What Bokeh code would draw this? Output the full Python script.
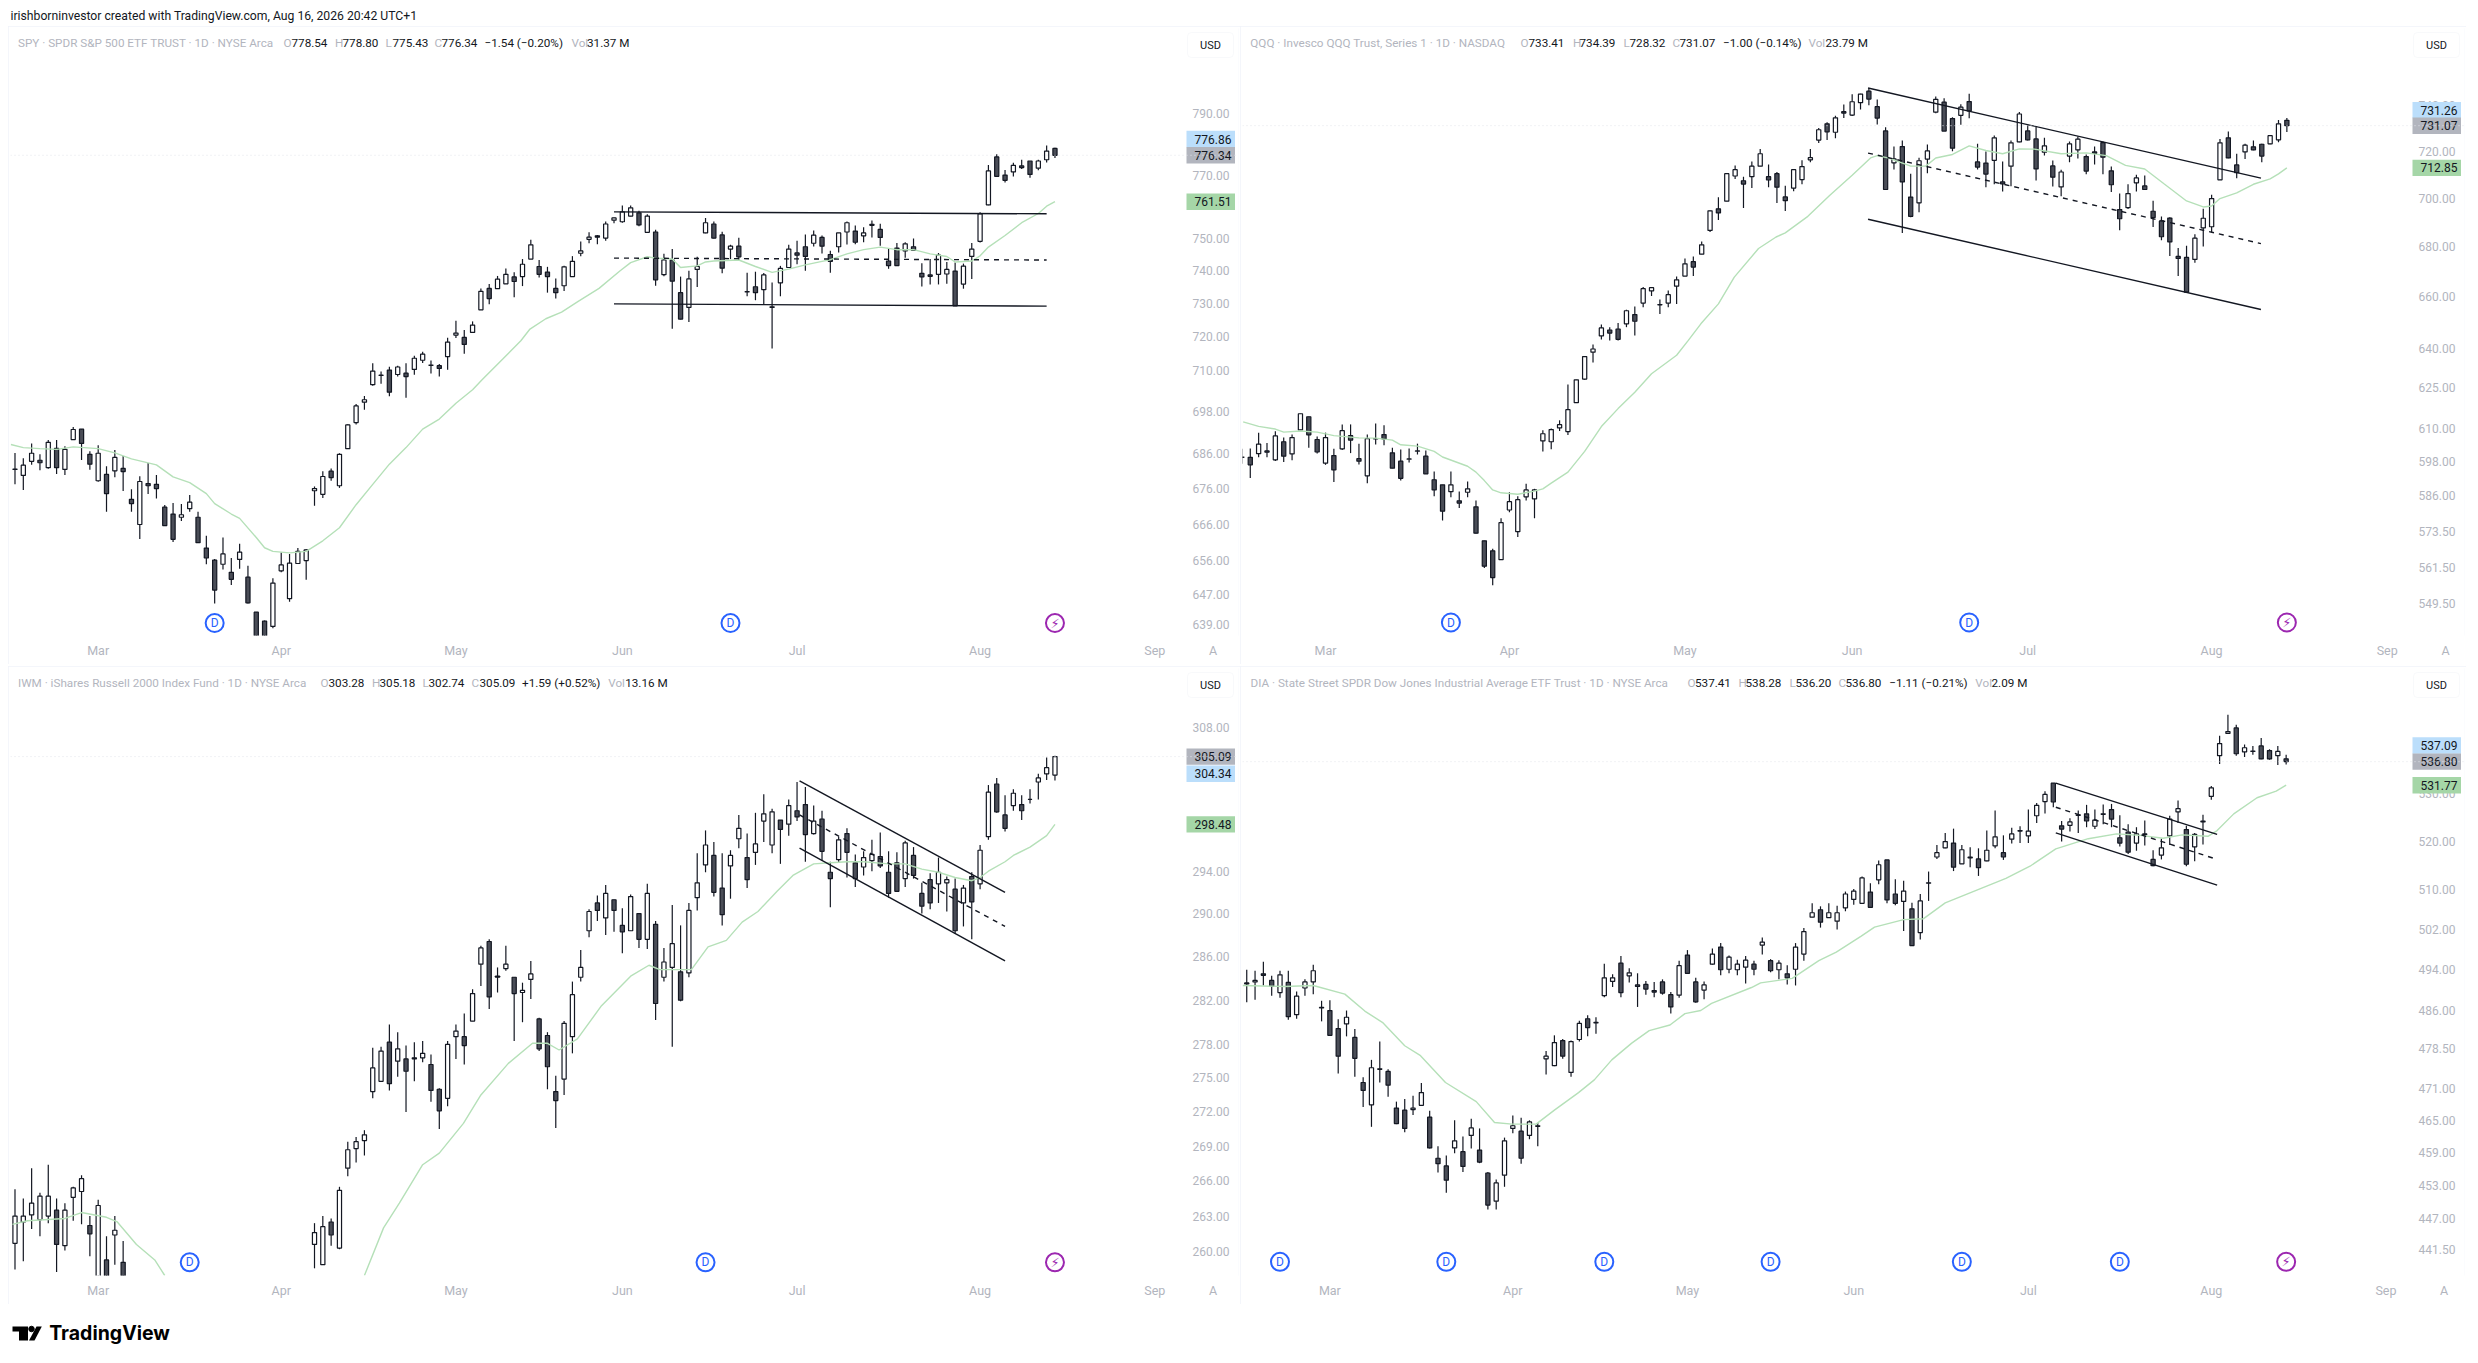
import math
from bokeh.plotting import figure
from bokeh.layouts import column, row
from bokeh.models import Range1d, FixedTicker, PrintfTickFormatter, Label, Span, BoxAnnotation
from bokeh.core.properties import value
from bokeh.embed import file_html
from bokeh.resources import INLINE

month_idx = [10, 32, 53, 73, 94, 116, 137]
month_names = ["Mar", "Apr", "May", "Jun", "Jul", "Aug", "Sep"]

# (open, high, low, close) per session
spy_bars = [
(681.5,686.1,677.2,681.4),(679.7,684.6,675.6,682.6),(683.7,688.8,682.7,686),(684,685.7,681.2,683.3),(681.9,689.8,681.6,689.1),
(687.4,689.8,680.1,681.9),(681.4,688,679.8,687.1),(689.9,693.5,689.8,692.8),(692.9,692.9,684.1,688.8),(685.7,686.6,681.3,682.9),
(678.2,688.3,677.9,686),(680,682.3,669.5,674.6),(681,686.9,679.2,684.8),(681.7,685.2,675.3,680.8),(673,675.8,669.5,671.8),
(666,679.5,662,678),(677.4,683.2,674.5,676.8),(677.2,679.8,673.2,676),(670.8,671.4,665.6,665.7),(668.9,672,661.2,661.9),
(668,671.7,667,668.7),(670.4,674.2,669.5,672.2),(668,669.5,660.9,661),(659.5,662.9,655.1,656.8),(656.2,656.5,644.5,648.1),
(655.1,662.4,653.7,657.9),(652.9,656.8,649.5,651),(656.4,660.7,653.9,658.4),(651.6,654.7,644.5,644.7),(642.2,642.2,630,632),
(639.8,640,630,632),(638.4,651.3,637.9,650),(653.3,658.3,652.9,654.9),(645.8,657.9,645,655.4),(655.3,659.5,655.3,658.6),
(656.1,659.2,650.9,659),(675.4,676.6,671.2,676),(674.4,680.9,673.4,679.4),(680.9,681.7,678.2,679.1),(676.8,686,676.2,685.7),
(687.3,694.3,687.3,694.1),(694.8,700.2,694.2,699.6),(700.7,702.5,698.5,701.4),(705.8,712.1,705.5,709.8),(708.6,709.7,706.1,708.5),
(710.1,711.1,702.4,703.6),(708.8,711.4,708.2,711),(709.2,712.1,702,708.2),(710.3,714.3,708.7,713.6),(713,715.5,712.2,714.8),
(711.6,712.9,709.1,711.5),(711.4,711.9,708.2,710.6),(714.1,719.7,710.2,718.4),(720.5,724.8,719.6,721.1),(719.8,722,714.9,717.7),
(721.3,724.6,721.2,723.5),(728.1,734.6,728.1,733.7),(734.6,735.9,729.8,731.5),(734.5,738.4,734.5,737.4),(736,740.7,736,738.9),
(738.1,739.5,731.9,736.7),(738.2,743.6,735.3,742),(743.6,749.6,743.6,748),(741.3,743.3,737.9,738.9),(739.6,741.2,733.3,738.2),
(734.6,737.6,731.5,733.3),(735.4,741.5,733.8,741.2),(738.2,744.5,738.1,742.9),(745.4,749,744.5,746.1),(749.7,751.9,748.5,750.4),
(750.8,751.1,748.2,750.4),(750.1,755.3,749.3,754.5),(755.7,756.5,754.7,756.4),(755.2,760.3,754.9,758.3),(757,760.3,756.9,759.6),
(758,758.7,753.8,754.2),(751.9,757.6,751.7,757),(752,752.7,735.4,737.2),(738.8,745.2,738.3,743.3),(743.3,746.7,722.4,736.8),
(733.3,738.2,725.2,725.3),(728.8,740,724.4,737.5),(740.4,744.3,735,741.3),(751.7,756.4,751.6,754.9),(754.5,755.3,750,750.1),
(751.1,752.1,739.2,740.8),(746.7,748,743.6,747.6),(747.6,750.2,743.3,744.3),(733.6,739.4,732.2,733.5),(735.1,739.7,731,733.3),
(734.2,739.3,729.8,738.7),(729,736.4,716.5,728.8),(736.3,741.5,732.2,740.7),(741,748,741,746.7),(745.5,749.3,742,744.8),
(747.4,751.2,740,744.4),(748.5,752.5,747.5,751),(750.3,750.9,745.3,747.6),(745,746.2,739.4,742.9),(747.4,751.7,745.6,751.7),
(752,755.3,748.1,754.9),(752.3,754,748.2,748.8),(750.8,753.5,748.8,751.7),(754.4,755.6,750.3,754.1),(752.8,754.6,747.7,750.3),
(743,747,740.6,741.6),(747,748.6,741.6,741.6),(746.1,748.8,744,748.3),(747.4,750,746.2,746.3),(739.2,742.3,735.2,738.1),
(738.7,743.6,735.8,738.3),(738.9,745.5,735.8,744.8),(739,742.7,736,740.4),(739.9,742.5,729.3,729.3),(735.9,742.2,734.5,741.4),
(744.4,748.6,737.5,746.7),(749.1,758.2,748.7,757.7),(760.5,773.2,760.4,771.3),(775.8,776.7,769.6,769.6),(770,771.6,767.6,768.3),
(771,773.9,769.5,773.1),(772.9,774.9,771.9,772.4),(774.5,774.5,769.1,770.2),(772.2,774.9,771.5,774.5),(774.9,779.5,774,777.7),
(778.54,778.80,775.43,776.34)]

qqq_bars = [
(599.7,602.7,597.3,599.6),(599.6,602.8,592.2,596.9),(600.9,608.5,599.6,604.3),(601.9,604.7,599.6,601.4),(598.7,609,598.3,607.3),
(605.2,606.7,597.9,600),(600.8,607.8,598.5,606.7),(609.5,615.4,609.4,615.4),(614.3,614.3,603,607.7),(606,607.1,601,601.5),
(597.5,608.5,596.9,606.7),(600.2,602.7,590.8,595.1),(602.6,611.5,602.2,609.2),(607.4,611.5,601.1,605.8),(599.1,604.5,597,598.2),
(593,607.8,590.4,606.3),(606.3,611.8,604.2,606.2),(607.8,611.2,603.9,606.2),(601.2,603,595.7,595.7),(598.2,602.4,591.3,592.1),
(598.9,602.8,597.7,599),(601.8,604.5,600.6,601.9),(600,602,593.6,593.7),(591.6,594.5,585.8,588),(589.8,589.8,577.4,580.6),
(587.4,594.5,585.4,589.8),(584.2,587.5,581.7,583.4),(587.2,591,585.4,588.4),(582.1,584.3,572.9,573),(570.4,570.4,561.2,561.8),
(567,567.7,555.4,558),(564,578.1,563.9,576.6),(581,587.2,580.2,583.9),(573.5,585.8,571.7,584.6),(585.6,590.2,584.3,588),
(584.9,588.4,578.1,588),(605.5,609.4,601.7,608.1),(605.2,610,602.5,609.6),(610.2,613,609.1,611.4),(608.9,626.3,607.6,616.9),
(619.5,628,619.4,628),(628.3,637,628,636.8),(638.5,641.4,634.6,639.7),(644.7,649.1,643.3,647.8),(647,648.1,643,645.8),
(647.4,649.7,643,643.4),(649.4,654.9,648.1,654.5),(653,656.2,644.9,650.4),(657.5,663.9,655.9,663.2),(662.3,663.6,660.3,663.6),
(656.9,658.9,653.2,656.8),(657.5,662.5,655.9,660.8),(664.2,668,657.1,666.7),(668.2,675.3,668.2,673.1),(674,676.1,668.2,671.8),
(677,682.2,677,680.8),(686.7,694.9,686,694.8),(695.6,700.4,691,693.9),(698.8,710.4,698.8,710.4),(709.4,713.9,708.1,712.1),
(707.4,709.1,696,706),(709.1,715.6,704.3,713.6),(713.6,721,713.6,718.9),(709.1,714.3,704.7,707.7),(710.4,711.1,698,704.7),
(700.6,705.3,694.7,699),(704.3,712.2,703,712.1),(707.9,716.1,705.9,713.4),(716.3,721,715.3,717.2),(724.8,730.1,723.5,729.3),
(731.9,732.6,724.8,728.4),(728.2,735.4,725.6,734.5),(737.2,740.4,734.4,736.6),(735.7,744.9,735.3,741.6),(741.2,745.2,738.2,745),
(746.3,747.6,740,742.8),(739.4,742.6,731.6,734.4),(728.8,730.4,703.6,703.7),(715,722,712.2,716.7),(722,724.6,685.6,706.9),
(700.5,710.4,692.1,692.5),(698.1,717.2,694.2,715.9),(716.6,722.9,710.6,720.1),(737,743.9,736.5,742.7),(741.4,743.2,728.7,728.7),
(734.2,734.8,720,721.3),(735.6,740.5,731.5,739.2),(741.7,745.2,734.3,737.6),(715.4,723.2,712.2,713.2),(714.9,719.9,704.7,710.2),
(716.1,726.8,705.9,725.8),(706.9,715.6,702.9,706.1),(713.6,724.6,705.1,723.6),(724,737.1,723.9,736.2),(728.8,731.6,724.6,724.9),
(725.3,730.7,707.5,712.4),(719.6,725.8,718.1,722.3),(713.7,716,705,708.9),(704.8,712.1,700.9,711.1),(717.9,724.2,715.3,723.2),
(720.6,726.4,716.9,725.2),(717.7,718.6,710.1,711.5),(719.7,722,714.3,719.1),(723.7,724.2,710.1,717.4),(711.6,713.4,702.7,705.7),
(695.3,702,686.8,691.5),(696.1,705.9,695.5,702),(706.5,709.9,702.9,708.6),(705.2,709.6,703.7,703.7),(694.6,699,688.1,692),
(690.6,692.4,682.7,684.1),(691.8,692.1,676.3,682),(676.1,679.5,668.2,675.3),(675.7,680.4,661.8,661.8),(674.9,685.1,673.5,683.5),
(687.7,695.6,680.1,691.7),(688.2,701.5,685.9,699.9),(707.8,725.3,707.8,723.6),(725.8,728.5,717,717.1),(714.1,718.9,708.5,710.8),
(719.7,723.2,716.6,722.6),(721.9,724.6,720.4,720.6),(723,723.2,715.3,717.9),(723.2,726.8,723,726.7),(724.9,733.6,723.9,731.9),
(733.41,734.39,728.32,731.07)]

iwm_bars_a = [
(260.7,265.3,258.5,263),(262.5,264.5,259.2,263),(263.1,267.1,261.9,264.1),(262.7,265,261.3,264.7),(263,267.4,262.4,264.7),
(263.5,264.5,258.3,260.6),(260.5,264.1,260.1,263.5),(264.6,265.5,262.6,265.4),(265.1,266.5,262.3,266.2),(262.2,263,259.6,261.5),
(257,264.4,256,263.9),(259.3,261.3,255,256),(261.4,263,258.9,261.8),(259.1,260.9,255,256)]
iwm_start_b = 36
iwm_bars_b = [
(260.6,262.4,258.6,261.6),(258.9,263,258.9,262.1),(262.5,262.8,260.5,261.4),(260.3,265.5,260.2,265.2),(267.1,269.4,266.4,268.7),
(268.8,269.8,267.6,269.4),(269.5,270.4,268.2,270),(273.8,277.7,273.2,275.9),(274.7,277.8,274.7,277.4),(278.2,279.8,273.9,274.5),
(276.5,279.1,275.1,277.6),(276.7,277.9,272,275.6),(276.8,278.2,274.7,276.7),(276.8,278.3,276.4,277.2),(276.2,277.1,272.9,273.9),
(274,274.1,270.5,272.1),(273.2,278.3,272.5,278),(278.7,279.8,276.7,279.2),(278.7,280.8,276.2,277.9),(280.1,283,280.1,282.6),
(285.3,287,283.3,286.8),(287.4,287.6,281.2,282.3),(284.2,285,282.7,284.1),(284.9,287,284.7,285.3),(284.1,284.1,278.3,282.6),
(282.7,283.6,280,282.9),(283.9,285.6,282.1,284.4),(280.3,280.4,277.4,277.6),(278.8,279.1,274,276),(273.8,275.2,270.6,273),
(274.9,280.1,273.5,279.9),(278.7,283.7,277.2,282.5),(284.1,286.6,283.7,285),(288.4,290.4,287.8,290.2),(291,291.7,289.3,290.3),
(289.6,292.7,288,291.9),(291.3,291.3,288.3,290.3),(288.9,290.5,286.3,288.3),(288.4,291.8,288.4,291.6),(290,290,286.8,287.6),
(287.6,292.8,286.7,291.9),(289,289.3,280.2,281.7),(284.1,286.8,283.7,285.5),(285,290.8,277.8,287.2),(284.6,288.9,281.9,282),
(284.5,291,284.1,290.3),(291.5,295.7,290.3,292.9),(294.6,297.9,293.9,296.5),(295.5,296.8,291.6,292),(292.4,295.7,288.9,289.9),
(294.5,296,291.4,295.5),(297.1,299.4,296.2,298.1),(295.3,297.6,292.4,293.2),(295.8,299.6,294.6,296.6),(298.8,301.4,296.8,299.5),
(296.5,300,295.7,299.7),(298.9,298.9,294.7,298),(298.5,300.9,297.4,300.3),(299.8,302.6,298.8,299.2),(300.4,302.1,294.9,297.5),
(297.6,300.3,297.5,298.8),(299,299.8,295,295.9),(293.9,294.9,290.6,293.3),(295.1,297.3,294.8,297),(297.6,298.1,293.4,295.8),
(294.8,295.6,292.5,293.3),(294.4,295.9,293.6,295.3),(295,297,294,295.6),(295.4,297.7,294.3,294.5),(293.9,295.9,291.5,291.9),
(294.8,295.8,292.1,292.1),(293.3,296.9,292.5,296.7),(295.5,296.3,293.3,293.6),(291.9,292.9,290,290.7),(293.2,293.8,290.4,291),
(292.8,295.3,291,293.9),(292.9,293.5,290.2,293.2),(292.3,293.3,288.1,288.4),(291,292.7,288.8,292.4),(293.5,293.9,287.6,291.1),
(292.8,296.5,292.3,296),(297.3,302.3,297,301.6),(302.4,303,299.6,299.7),(299.4,301.3,297.8,298.1),(300.3,301.9,299.8,301.5),
(300.4,301.3,298.9,299.8),(300.9,301.9,300.5,300.9),(302.6,303.4,300.9,303),(303.4,305,302.8,304),(303.28,305.18,302.74,305.09)]

dia_bars = [
(491.3,493.9,487.5,491.1),(491.5,493.7,488,491.8),(493.1,495.5,490.8,492.8),(491.8,492.7,488.8,490.6),(489.4,493.7,488.4,492.9),
(491.4,493.7,484.1,484.7),(485.1,489.6,484.3,488.7),(490.3,492,488.8,491.5),(491.5,494.9,489.1,493.7),(486.5,487.8,483.8,486.4),
(485.9,487.9,481,481.1),(482.4,484.2,473.8,477.1),(483.3,485.9,480.9,484.6),(480.7,482.3,473.2,476.7),(472.1,473.1,467.5,470.6),
(467.9,476.4,463.8,474.9),(474.7,479.9,472.1,474.6),(474.2,474.6,469.4,471.6),(467.3,468.5,464.3,464.4),(466.9,469,462.8,463.5),
(467,469.6,466,467.3),(467.8,472,467.7,470.2),(465.6,466.8,459.8,459.9),(458,460.2,455.4,457),(456.6,458.5,451.7,454),
(459.9,465,458.9,461.2),(459.2,462,455.5,456.5),(462.2,465.3,459.8,463.6),(459.5,463.5,457.1,457.3),(455.3,455.5,448.7,449.5),
(450.2,454.1,448.7,453.5),(454.9,461.8,452.8,461.2),(463.5,465.9,462.6,464),(463,465.5,457,458),(462.2,465,461.5,464.7),
(464,464.5,460.2,463.9),(476.6,478.1,473.6,477.1),(475.3,481.1,475.2,479.7),(480.1,480.4,476.6,477.1),(474,480.1,473.2,479.9),
(480.3,483.9,479.9,483.4),(484.3,485,480.9,482.6),(483.6,484.6,481.4,483.5),(488.8,495.1,488.5,492.3),(491.6,493,490.5,492.3),
(495.2,496.6,488.5,489.4),(492.7,494.2,491.4,493.3),(490.9,493.2,486.6,490.6),(491,491.7,489,490.1),(489.8,491.5,488.5,489.5),
(491.5,492,489,489.3),(489,489.5,485.3,486.6),(488.9,495.7,488.4,494.7),(496.8,497.8,493.1,493.2),(491.5,492.3,487.4,487.6),
(489.9,491.6,488.1,490.9),(495,498.1,494.9,497),(498.4,499.2,492.8,493.9),(494,496.7,493.2,496.4),(493.9,495.9,492.8,495),
(494.4,496.6,491.2,495.8),(495,495.7,492.8,494),(498.8,500.3,496.9,499.4),(495.7,496,493.4,493.7),(493.9,495.8,492,495.2),
(493.1,494.8,491,492.3),(494,499.2,490.8,498.4),(497,502.2,495.7,501.5),(504.4,507.2,504.4,505.3),(505.9,506.6,502.3,503.4),
(504.3,507.2,504.3,505.3),(503.6,506.7,501.9,505.3),(506.3,509.6,505.6,509.1),(508,510.1,506.9,509.7),(507.2,512.7,507.2,512.4),
(509.5,511.3,506.4,506.4),(512,516,511.1,515.1),(516.1,516.1,507.2,507.9),(509.1,512.1,506.8,507.2),(507.6,511.8,501.6,509.7),
(506.1,507.3,498.7,498.7),(501.3,509.1,499.9,507.7),(511.4,513.7,507.7,511.3),(516.7,519.2,516.3,517.6),(518.6,521.7,518.5,519.9),
(519.6,522.6,513.8,514.6),(515.3,519.2,515.3,518.2),(516.7,518.7,514.6,516.5),(516.3,518.5,512.8,514.5),(515.9,522.2,515.8,518.1),
(519,526.4,518.5,520.9),(517.6,521.2,516.1,516.7),(520.4,522.8,519.5,521.5),(522.2,523.1,519.6,522.1),(521.1,526.6,519.6,522.1),
(525.3,528,523.8,527.5),(528.3,530.5,525.8,529.8),(532.2,532.2,527.1,528.2),(523.2,524.2,519.9,522.5),(523.3,524.8,522,524),
(525.5,526.4,521.7,525.4),(525.7,527.6,522.9,524.2),(523.1,526.6,522.5,524.4),(525.7,527.7,523.5,525.6),(526.6,527.8,522.9,524.6),
(520.7,525.4,518.9,519.6),(521.9,523.5,517.3,517.7),(519.6,522.9,518,521.5),(521.5,524.3,519.1,521.4),(516.2,518.1,514.8,514.9),
(517.1,520.5,516.2,518.6),(521.1,525.3,519.2,524.6),(526.1,528.5,523.8,526.8),(522.4,523.2,514.8,515.2),(518.8,521.7,515.8,521.4),
(524.2,525.5,519.3,524),(529.4,531.6,528.7,531.2),(538.1,542.4,536.3,540.7),(542.9,547,542.9,543.3),(544.1,544.8,538.1,538.5),
(538.9,540.5,537.8,539.8),(539.1,540.2,538.3,539),(540.2,541.9,537.3,537.4),(539.2,539.5,537.2,537.4),(538.1,540.2,536.1,539),
(537.41,538.28,536.20,536.80)]

spy_ma_x = [-0.5,1,3,5,7,10,12,14,17,19,21,23,24,26,27,29,30,31,33,35,37,39,41,43,45,47,49,51,53,55,56.2,58.6,60.8,61.9,63.8,65.7,67.6,70.2,72.7,74,76,77,79,80,82,83,84,87,89,91,93,95,97,98,100,102,104,106,108,110,112,113,115,116,117,119,121,123,124,125]
spy_ma_y = [688.5,687.6,687.3,687.1,687.8,687.3,686.1,684.4,682.7,679.3,677.7,674.6,671.8,668.9,667.7,662.4,659.6,658.6,658.2,658.6,661.5,665.1,671.5,677.2,682.9,687.6,692.9,695.8,700.4,704.3,707.4,713.3,718.8,722.3,725.4,727.4,730.5,734.6,739.9,742.5,744.3,743.9,743.6,741,741.5,742.7,743,743.3,741.3,739.5,740.5,741.8,742.9,743.4,745.2,746.5,747.3,746.5,746.5,745.2,744.4,742.7,743,744.6,747.3,750.9,754.9,757.8,760.1,761.51]
qqq_ma_x = [0.15,2,4,5,7,9,11,14,16,18,19,21,23,24,27,28,29,30,31,33,35,36,37,39,41,43,45,47,49,52,53.4,54.9,57,58.9,61.8,63.9,65,67.7,70.3,73,75.2,76,77.4,80,81.8,83,85,87,89,91,93,94.8,98,101,103.4,105.7,108,110.3,113,115,116,117,119,121,123,124,125]
qqq_ma_y = [612.4,610.8,609.8,608.7,609.1,608.7,607.4,606.6,606.5,605.8,604.1,603.6,601.7,599.7,596.4,594.3,591.3,588,587,586.5,587.6,588.4,590.4,594.3,601.7,610.7,617.3,623.4,630.3,637.3,643,649.4,657.2,667.8,679.3,684,685.7,692.5,701.2,709.7,717.1,718.1,717,713.6,713.6,717.1,718.6,722.3,720.3,718.9,721,720.9,718.9,719.3,718.1,713.9,712.4,706.1,698.9,696.4,696.8,699.9,702.3,705.9,708.2,710.3,712.85]
iwm_ma1_x = [-0.3,1.5,6,8,11,12.3,14.6,16.8,18]
iwm_ma1_y = [262.3,262.6,262.8,263.3,262.9,262.5,260.6,259.3,258]
iwm_ma2_x = [42,44.3,46.2,49,51,53.9,56,59.3,62.2,64,65.4,67.6,70.5,74,76.2,77.5,79.4,81.3,83.3,85.5,87.4,89.3,91.6,93.5,96,98,100,102,105,107,109,111,113,115,116,117,119,120,122,124,125]
iwm_ma2_y = [258,262,264.1,267.4,268.4,271,273.5,276.3,278.1,278.1,277.5,278.5,281.5,284.2,285.2,284.8,284.8,284.8,286.9,287.5,289.2,290.2,292.1,293.6,294.7,294.8,294.9,294.9,294.7,294.7,294.2,293.9,293.4,293.1,293.4,294,294.9,295.5,296.3,297.4,298.48]
dia_ma_x = [-0.5,4.6,8,11.8,14.2,16.4,19,20.9,23.9,27.6,29.8,31.9,34.8,37,39.9,41.8,43.9,46.3,48.4,50.9,52.7,54.6,55.9,60.7,61.8,65.6,68.8,70.9,73.9,75.5,79,81.4,84,91.3,94.2,97.3,101.2,104.6,107.5,110.2,112.5,115.6,116.7,118.7,121.5,123.8,125]
dia_ma_y = [490.8,490.6,490.8,489.1,485.8,483.5,479.1,477.2,472.1,468.5,464.6,464.3,464.3,466.9,470.2,472.6,476.4,479.6,482,483.1,485.3,485.9,487.3,490.4,491.3,492.2,495.7,497.4,500.6,502.4,503.9,504.1,507.3,512.3,514.8,518.4,520.5,521.5,521.2,520.6,521.3,521,522.2,525.7,529.1,530.5,531.77]

# drawn channels: x0, x1, y0, y1
spy_lines = {"top": (72, 124, 758.3, 757.7), "mid": (72, 124, 743.9, 743.3), "low": (72, 124, 729.9, 729.2)}
qqq_lines = {"top": (74.9, 121.9, 747.7, 708.5), "mid": (74.9, 121.9, 719.2, 681.3), "low": (74.9, 121.9, 691.3, 655.0)}
iwm_lines = {"top": (94.3, 119, 302.7, 292.0), "mid": (94.3, 119, 299.4, 288.8), "low": (94.3, 119, 296.2, 285.6)}
dia_lines = {"top": (97.3, 116.7, 532.2, 521.4), "mid": (97.3, 116.7, 527.1, 516.2), "low": (97.3, 116.7, 521.7, 510.9)}

spy_ticks = [790, 770, 750, 740, 730, 720, 710, 698, 686, 676, 666, 656, 647, 639]
qqq_ticks = [740, 720, 700, 680, 660, 640, 625, 610, 598, 586, 573.5, 561.5, 549.5]
iwm_ticks = [308, 294, 290, 286, 282, 278, 275, 272, 269, 266, 263, 260]
dia_ticks = [530, 520, 510, 502, 494, 486, 478.5, 471, 465, 459, 453, 447, 441.5]

spy_range = (636.0, 818.3)
qqq_range = (539.0, 774.8)
iwm_range = (258.0, 313.9)
dia_range = (437.0, 557.2)

# label text, anchor price
spy_tags = [("776.86", 781.6, "#bbdefb"), ("776.34", 776.34, "#b2b5be"), ("761.51", 761.51, "#a5d6a7")]
qqq_tags = [("731.26", 737.9, "#bbdefb"), ("731.07", 731.07, "#b2b5be"), ("712.85", 712.85, "#a5d6a7")]
iwm_tags = [("305.09", 305.09, "#b2b5be"), ("304.34", 303.4, "#bbdefb"), ("298.48", 298.48, "#a5d6a7")]
dia_tags = [("537.09", 540.3, "#bbdefb"), ("536.80", 536.80, "#b2b5be"), ("531.77", 531.77, "#a5d6a7")]

spy_div = [24, 86]
qqq_div = [25, 87]
iwm_div = [21, 83]
dia_div = [4, 24, 43, 63, 86, 105]
zap_idx = 125
spy_ev, qqq_ev, iwm_ev, dia_ev = 639.3, 543.2, 259.1, 439.4

GRAY = "#b2b5be"
DARK = "#131722"
FONT = "Roboto"

spy_title = [("SPY · SPDR S&P 500 ETF TRUST · 1D · NYSE Arca", 17.5, GRAY), ("O", 283, GRAY), ("778.54", 291, DARK), ("H", 334.6, GRAY), ("778.80", 342, DARK), ("L", 385, GRAY), ("775.43", 392, DARK), ("C", 434, GRAY), ("776.34", 441, DARK), ("−1.54 (−0.20%)", 484, DARK), ("Vol", 571, GRAY), ("31.37 M", 586.5, DARK)]
qqq_title = [("QQQ · Invesco QQQ Trust, Series 1 · 1D · NASDAQ", 1249.8, GRAY), ("O", 1520, GRAY), ("733.41", 1528, DARK), ("H", 1572.6, GRAY), ("734.39", 1579, DARK), ("L", 1623, GRAY), ("728.32", 1629, DARK), ("C", 1672, GRAY), ("731.07", 1679, DARK), ("−1.00 (−0.14%)", 1722.6, DARK), ("Vol", 1808, GRAY), ("23.79 M", 1825, DARK)]
iwm_title = [("IWM · iShares Russell 2000 Index Fund · 1D · NYSE Arca", 17.5, GRAY), ("O", 320, GRAY), ("303.28", 328, DARK), ("H", 371.6, GRAY), ("305.18", 379, DARK), ("L", 422, GRAY), ("302.74", 428, DARK), ("C", 471, GRAY), ("305.09", 479, DARK), ("+1.59 (+0.52%)", 521.5, DARK), ("Vol", 607.7, GRAY), ("13.16 M", 624.7, DARK)]
dia_title = [("DIA · State Street SPDR Dow Jones Industrial Average ETF Trust · 1D · NYSE Arca", 1250, GRAY), ("O", 1687, GRAY), ("537.41", 1694.5, DARK), ("H", 1738, GRAY), ("538.28", 1745, DARK), ("L", 1789, GRAY), ("536.20", 1795, DARK), ("C", 1838, GRAY), ("536.80", 1845, DARK), ("−1.11 (−0.21%)", 1888.7, DARK), ("Vol", 1974.8, GRAY), ("2.09 M", 1991, DARK)]

TOP_H = 18
ROW_H = 638
FRAME_T, FRAME_B = 2, 609
AXIS_W = 52


def pane(segments, ticks, yrange, xrange_, tags, w, left_page, margin):
    # the frame runs under the price scale, so its price tags stay inside the plotting area
    p = figure(width=w, height=ROW_H, frame_width=w - 4, frame_height=FRAME_B - FRAME_T,
               output_backend="svg", toolbar_location=None,
               y_axis_type="log", y_axis_location="right",
               x_range=Range1d(*xrange_), y_range=Range1d(*yrange),
               min_border_left=2, min_border_top=FRAME_T, min_border_bottom=ROW_H - FRAME_B,
               min_border_right=2, background_fill_color="white",
               margin=margin,
               styles={"outline": "2px solid #f0f3fa", "outline-offset": "-2px"})
    p.grid.visible = False
    p.outline_line_color = None
    ax = p.yaxis[0]
    ax.ticker = FixedTicker(ticks=ticks, minor_ticks=[])
    ax.formatter = PrintfTickFormatter(format="%.2f")
    ax.axis_line_color = None
    ax.major_tick_line_color = None
    ax.minor_tick_line_color = None
    ax.major_tick_in = 0
    ax.major_tick_out = 0
    ax.major_label_standoff = -46
    ax.major_label_text_color = GRAY
    ax.major_label_text_font = FONT
    ax.major_label_text_font_size = "12px"
    bx = p.xaxis[0]
    bx.ticker = FixedTicker(ticks=month_idx, minor_ticks=[])
    bx.major_label_overrides = dict(zip(month_idx, month_names))
    bx.axis_line_color = None
    bx.major_tick_line_color = None
    bx.minor_tick_line_color = None
    bx.major_tick_in = 0
    bx.major_tick_out = 0
    bx.major_label_standoff = 7
    bx.major_label_text_color = GRAY
    bx.major_label_text_font = FONT
    bx.major_label_text_font_size = "12.5px"

    for text, px, color in segments:
        p.add_layout(Label(x=px - left_page, y=16, x_units="canvas", y_units="canvas",
                           text=text, text_color=color, text_font=FONT, text_font_size="11.7px",
                           text_baseline="middle", text_align="left"))
    fr = w - AXIS_W - 2
    lo, hi = math.log(yrange[0]), math.log(yrange[1])
    for text, price, color in tags:
        cy = FRAME_T + (FRAME_B - FRAME_T) * (hi - math.log(price)) / (hi - lo)
        p.add_layout(BoxAnnotation(left=fr, right=fr + 48.5, top=cy - 8.2, bottom=cy + 8.2,
                                   left_units="canvas", right_units="canvas", top_units="canvas", bottom_units="canvas",
                                   fill_color=color, fill_alpha=1, line_color=None, level="annotation"))
        p.add_layout(Label(x=fr + 8, y=cy, x_units="canvas", y_units="canvas", text=text,
                           text_color=DARK, text_font=FONT, text_font_size="12px",
                           text_baseline="middle", text_align="left"))
    p.add_layout(BoxAnnotation(left=fr + 1, right=fr + 47, top=6, bottom=31,
                               left_units="canvas", right_units="canvas", top_units="canvas", bottom_units="canvas",
                               fill_color="white", fill_alpha=1, line_color="#e9ecf2", line_width=1, border_radius=4))
    p.add_layout(Label(x=fr + 24, y=19, x_units="canvas", y_units="canvas", text="USD",
                       text_color=DARK, text_font=FONT, text_font_size="11px", text_baseline="middle", text_align="center"))
    return p


def a_button(p, w):
    fr = w - AXIS_W - 2
    return fr


def draw(p, x, bars, ma_parts, lines, divs, ev, last_close):
    o = [b[0] for b in bars]
    h = [b[1] for b in bars]
    l = [b[2] for b in bars]
    c = [b[3] for b in bars]
    p.add_layout(Span(location=last_close, dimension="width", line_color="#e2e4ea", line_dash="1 3", line_width=1))
    p.segment(x, h, x, l, line_color=DARK, line_width=1.2)
    up = [i for i in range(len(x)) if c[i] >= o[i]]
    dn = [i for i in range(len(x)) if c[i] < o[i]]
    p.vbar([x[i] for i in up], 0.5, [o[i] for i in up], [c[i] for i in up], fill_color="white", line_color=DARK, line_width=1.2)
    p.vbar([x[i] for i in dn], 0.5, [c[i] for i in dn], [o[i] for i in dn], fill_color="#4a4d57", line_color=DARK, line_width=1.2)
    for mx, my in ma_parts:
        p.line(mx, my, line_color="#b5e0b8", line_width=1.4)
    for name, (x0, x1, y0, y1) in lines.items():
        p.line([x0, x1], [y0, y1], line_color=DARK, line_width=1.4, line_dash="5 5" if name == "mid" else "solid")
    p.scatter(divs, [ev] * len(divs), marker="circle", size=18, fill_color="white", line_color="#2962ff", line_width=2)
    p.text(divs, [ev] * len(divs), text=value("D"), text_color="#2962ff", text_font=value(FONT), text_font_size="12px",
           text_align="center", text_baseline="middle")
    p.scatter([zap_idx], [ev], marker="circle", size=18, fill_color="white", line_color="#9c27b0", line_width=2)
    p.text([zap_idx], [ev], text=value("⚡"), text_color="#9c27b0", text_font=value("DejaVu Sans"), text_font_size="13px",
           text_align="center", text_baseline="middle")


p1 = pane(spy_title, spy_ticks, spy_range, (-0.54, 147.06), spy_tags, 1232, 8, (0, 0, 0, 0))
p2 = pane(qqq_title, qqq_ticks, qqq_range, (0.07, 146.25), qqq_tags, 1226, 1240, (0, 0, 0, 0))
p3 = pane(iwm_title, iwm_ticks, iwm_range, (-0.54, 147.06), iwm_tags, 1232, 8, (2, 0, 0, 0))
p4 = pane(dia_title, dia_ticks, dia_range, (-0.51, 146.45), dia_tags, 1226, 1240, (2, 0, 0, 0))

draw(p1, list(range(len(spy_bars))), spy_bars, [(spy_ma_x, spy_ma_y)], spy_lines, spy_div, spy_ev, spy_bars[-1][3])
draw(p2, list(range(len(qqq_bars))), qqq_bars, [(qqq_ma_x, qqq_ma_y)], qqq_lines, qqq_div, qqq_ev, qqq_bars[-1][3])
iwm_x = list(range(len(iwm_bars_a))) + list(range(iwm_start_b, iwm_start_b + len(iwm_bars_b)))
draw(p3, iwm_x, iwm_bars_a + iwm_bars_b, [(iwm_ma1_x, iwm_ma1_y), (iwm_ma2_x, iwm_ma2_y)], iwm_lines, iwm_div, iwm_ev, iwm_bars_b[-1][3])
draw(p4, list(range(len(dia_bars))), dia_bars, [(dia_ma_x, dia_ma_y)], dia_lines, dia_div, dia_ev, dia_bars[-1][3])

# "A" auto-scale button sits in the time axis strip, which is outside the frame: drawn on the axis labels row
for p_, month in ((p1, 1), (p2, 1), (p3, 1), (p4, 1)):
    ax_ = p_.xaxis[0]
    ticks_ = list(ax_.ticker.ticks) + [144]
    ax_.ticker = FixedTicker(ticks=ticks_, minor_ticks=[])
    ov = dict(ax_.major_label_overrides)
    ov[144] = "A"
    ax_.major_label_overrides = ov

head = figure(width=2458, height=TOP_H, output_backend="svg", toolbar_location=None,
              x_range=Range1d(0, 2458), y_range=Range1d(0, TOP_H), min_border=0)
head.axis.visible = False
head.grid.visible = False
head.outline_line_color = None
head.add_layout(Label(x=2, y=7, x_units="canvas", y_units="canvas",
                      text="irishborninvestor created with TradingView.com, Aug 16, 2026 20:42 UTC+1",
                      text_color=DARK, text_font=FONT, text_font_size="12.2px", text_baseline="middle"))

foot = figure(width=2458, height=51, output_backend="svg", toolbar_location=None,
              x_range=Range1d(0, 2458), y_range=Range1d(51, 0), min_border=0)
foot.axis.visible = False
foot.grid.visible = False
foot.outline_line_color = None
oy = 1304
foot.patch([4, 19.5, 19.5, 10.5, 10.5, 4], [1326 - oy, 1326 - oy, 1340 - oy, 1340 - oy, 1331 - oy, 1331 - oy], color="#000000", line_width=0)
foot.scatter([23], [1328.5 - oy], marker="circle", size=5.5, color="#000000")
foot.patch([28, 33.3, 26, 20.5], [1326 - oy, 1326 - oy, 1340 - oy, 1340 - oy], color="#000000", line_width=0)
foot.add_layout(Label(x=40.7, y=28.5, x_units="canvas", y_units="canvas", text="TradingView",
                      text_color="#000000", text_font="Inter", text_font_style="bold", text_font_size="19.5px",
                      text_baseline="middle"))

layout = column(head, row(p1, p2, spacing=0), row(p3, p4, spacing=0), foot, spacing=0, margin=(8, 0, 0, 8))
open("out.html", "w").write(file_html(layout, INLINE))
